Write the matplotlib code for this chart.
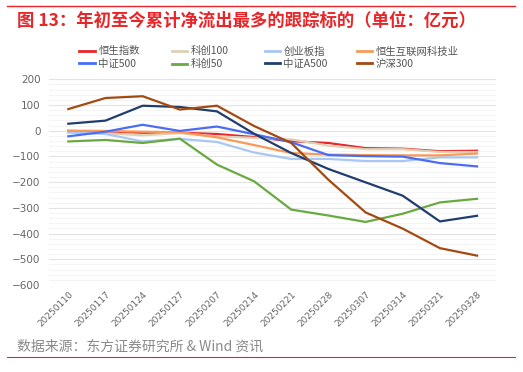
import numpy as np
import matplotlib.pyplot as plt
from matplotlib.ticker import MultipleLocator

plt.rcParams['font.family'] = ['Noto Sans CJK SC', 'DejaVu Sans']

# 数据（单位：亿元）
dates = ['20250110', '20250117', '20250124', '20250127', '20250207', '20250214',
         '20250221', '20250228', '20250307', '20250314', '20250321', '20250328']
hsi = [-1, -4, -8, -8, -13, -25, -41, -48, -68, -70, -80, -78]
kc100 = [-8, -10, -18, -10, -22, -28, -34, -58, -72, -72, -83, -83]
cyb = [-6, -13, -42, -32, -44, -85, -110, -110, -118, -118, -104, -104]
hs_tech = [0, -1, -4, -6, -26, -56, -87, -93, -95, -96, -96, -89]
zz500 = [-22, -4, 23, -1, 16, -14, -45, -95, -99, -101, -126, -139]
kc50 = [-42, -36, -48, -31, -132, -197, -307, -330, -355, -323, -279, -265]
a500 = [27, 39, 97, 92, 75, -12, -87, -149, -201, -253, -353, -331]
hs300 = [84, 127, 134, 82, 97, 18, -48, -191, -318, -381, -457, -486]

series = [
    ('恒生指数', hsi, '#e8262a'),
    ('科创100', kc100, '#ddd0b4'),
    ('创业板指', cyb, '#a9c7f3'),
    ('恒生互联网科技业', hs_tech, '#f89a5a'),
    ('中证500', zz500, '#4a6cf7'),
    ('科创50', kc50, '#6aa842'),
    ('中证A500', a500, '#1f3e6e'),
    ('沪深300', hs300, '#a34a12'),
]

fig = plt.figure(figsize=(5.23, 3.72), dpi=100)
ax = fig.add_axes([0.0937, 0.234, 0.854, 0.553])

x = np.arange(len(dates))
lines = []
for name, vals, col in series:
    ln, = ax.plot(x, vals, color=col, lw=1.6, label=name)
    lines.append(ln)

ax.set_xlim(-0.52, 11.5)
ax.set_ylim(-600, 200)
ax.yaxis.set_major_locator(MultipleLocator(100))
ax.yaxis.set_minor_locator(MultipleLocator(20))
ax.grid(axis='y', which='major', color='#e3e3e3', lw=0.8)
ax.grid(axis='y', which='minor', color='#f3f3f3', lw=0.6)
ax.set_axisbelow(True)
for s in ax.spines.values():
    s.set_visible(False)
ax.tick_params(which='both', length=0)
ax.tick_params(axis='y', labelsize=7.5, labelcolor='#666666', pad=6)
ax.set_xticks(x)
ax.set_xticklabels(dates, rotation=45, ha='right', rotation_mode='anchor',
                   fontsize=6.5, color='#666666', family='DejaVu Sans')
for lbl in ax.get_yticklabels():
    lbl.set_family('DejaVu Sans')

# 图例：两行四列，每列一个图例，按行排列
col_x = [0.138, 0.314, 0.492, 0.668]
for i, cx in enumerate(col_x):
    hs = [lines[i], lines[i + 4]]
    leg = fig.legend(hs, [h.get_label() for h in hs], loc='upper left',
                     bbox_to_anchor=(cx, 0.895), frameon=False, fontsize=7.5,
                     handlelength=1.5, handletextpad=0.3, labelspacing=0.25,
                     borderpad=0.2)
    for t in leg.get_texts():
        t.set_color('#555555')
    for h in leg.legend_handles:
        h.set_linewidth(2.0)

# 标题与分隔线
fig.add_artist(plt.Line2D([0.013, 0.985], [0.984, 0.984], color='#e8262a', lw=1.0))
fig.text(0.033, 0.945, '图 13：年初至今累计净流出最多的跟踪标的（单位：亿元）',
         color='#e8262a', fontsize=12.5, fontweight='bold', va='center')
fig.text(0.033, 0.067, '数据来源：东方证券研究所 & Wind 资讯',
         color='#8a8a8a', fontsize=10, va='center')
fig.add_artist(plt.Line2D([0.013, 0.985], [0.040, 0.040], color='#e8262a', lw=0.8))

fig.savefig('out.png', dpi=100, facecolor='white')
